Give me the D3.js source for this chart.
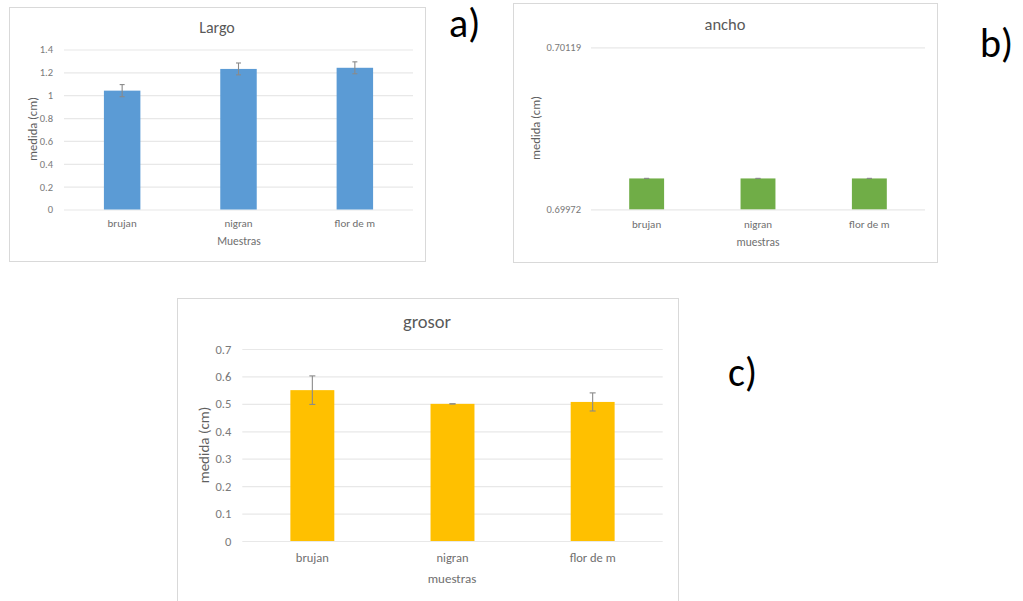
<!DOCTYPE html>
<html>
<head>
<meta charset="utf-8">
<script src="https://cdn.jsdelivr.net/npm/d3@7"></script>
<style>
  html, body { margin: 0; padding: 0; background: #fff; }
  svg { display: block; }
  text { font-family: Carlito, Calibri, Lato, "Open Sans", sans-serif; }
</style>
</head>
<body>
<svg id="fig" width="1023" height="601"></svg>
<script>
// Sample categories shared by the three panels
const categories = ["brujan", "nigran", "flor de m"];

// a) Largo
const largoValues = [1.04, 1.23, 1.24];
const largoErrors = [0.053, 0.052, 0.052];
const largoTicks = [0, 0.2, 0.4, 0.6, 0.8, 1, 1.2, 1.4];

// b) ancho
const anchoValues = [0.7, 0.7, 0.7];
const anchoErrors = [0, 0, 0];
const anchoTicks = [0.69972, 0.70119];

// c) grosor
const grosorValues = [0.55, 0.50, 0.507];
const grosorErrors = [0.052, 0, 0.033];
const grosorTicks = [0, 0.1, 0.2, 0.3, 0.4, 0.5, 0.6, 0.7];

const svg = d3.select("#fig");
const FONT = "Carlito, Calibri, Lato, 'Open Sans', sans-serif";

function panel(cfg) {
  const g = svg.append("g");

  g.append("rect")
    .attr("x", cfg.box[0] + 0.5).attr("y", cfg.box[1] + 0.5)
    .attr("width", cfg.box[2]).attr("height", cfg.box[3])
    .attr("fill", "#fff").attr("stroke", "#d9d9d9");

  const x = d3.scaleBand().domain(categories)
    .range([cfg.plot.x0, cfg.plot.x1])
    .paddingInner(0.6865).paddingOuter(0.343);
  const y = d3.scaleLinear().domain(cfg.domain).range([cfg.plot.y1, cfg.plot.y0]);

  // gridlines + tick labels via a left axis
  const yAxis = d3.axisLeft(y).tickValues(cfg.ticks)
    .tickSize(-(cfg.plot.x1 - cfg.plot.x0)).tickPadding(cfg.tickPad)
    .tickFormat(cfg.fmt);
  const ya = g.append("g").attr("transform", `translate(${cfg.plot.x0},0)`).call(yAxis);
  ya.select(".domain").remove();
  ya.selectAll(".tick line").attr("stroke", "#e8e8e8").attr("stroke-width", 1.2);
  ya.selectAll(".tick text").attr("fill", "#7a7a7a")
    .style("font-size", cfg.tickSize + "px")
    .style("font-family", FONT);

  // bars
  g.selectAll("rect.bar").data(cfg.values).join("rect").attr("class", "bar")
    .attr("x", (d, i) => x(categories[i]))
    .attr("width", x.bandwidth())
    .attr("y", d => y(d))
    .attr("height", d => y(cfg.domain[0]) - y(d))
    .attr("fill", cfg.color);

  // error bars
  const cap = cfg.cap;
  const eb = g.selectAll("g.err").data(cfg.values).join("g").attr("class", "err")
    .attr("stroke", "#8a8a8a").attr("stroke-width", 1.1);
  eb.each(function (d, i) {
    const cx = x(categories[i]) + x.bandwidth() / 2;
    const e = cfg.errors[i];
    const s = d3.select(this);
    s.append("line").attr("x1", cx).attr("x2", cx).attr("y1", y(d + e)).attr("y2", y(d - e));
    s.append("line").attr("x1", cx - cap).attr("x2", cx + cap).attr("y1", y(d + e)).attr("y2", y(d + e));
    s.append("line").attr("x1", cx - cap).attr("x2", cx + cap).attr("y1", y(d - e)).attr("y2", y(d - e));
  });

  // category labels
  g.selectAll("text.cat").data(categories).join("text").attr("class", "cat")
    .attr("x", d => x(d) + x.bandwidth() / 2)
    .attr("y", cfg.catY)
    .attr("text-anchor", "middle").attr("fill", "#6f6f6f")
    .style("font-size", cfg.catSize + "px").text(d => d);

  // titles
  g.append("text").attr("x", cfg.titleX).attr("y", cfg.titleY)
    .attr("text-anchor", "middle").attr("fill", "#595959")
    .style("font-size", cfg.titleSize + "px").text(cfg.title);
  g.append("text").attr("x", cfg.xTitleX).attr("y", cfg.xTitleY)
    .attr("text-anchor", "middle").attr("fill", "#6f6f6f")
    .style("font-size", cfg.xTitleSize + "px").text(cfg.xTitle);
  g.append("text")
    .attr("transform", `translate(${cfg.yTitleX},${cfg.yTitleY}) rotate(-90)`)
    .attr("text-anchor", "middle").attr("fill", "#5f5f5f")
    .style("font-size", cfg.yTitleSize + "px").text("medida (cm)");

  // panel letter
  svg.append("text").attr("x", cfg.letter[0]).attr("y", cfg.letter[1])
    .attr("fill", "#000").style("font-size", "40px").text(cfg.letter[2]);
}

panel({
  box: [9, 7, 416, 254],
  plot: { x0: 64, x1: 413, y0: 49.5, y1: 209.5 },
  domain: [0, 1.4], ticks: largoTicks, fmt: d => String(+d.toFixed(2)),
  values: largoValues, errors: largoErrors, color: "#5b9bd5", cap: 2.5,
  tickPad: 11, tickSize: 10.5,
  catY: 226.5, catSize: 11,
  title: "Largo", titleX: 217, titleY: 32.5, titleSize: 16,
  xTitle: "Muestras", xTitleX: 239, xTitleY: 244.5, xTitleSize: 11.5,
  yTitleX: 36.5, yTitleY: 129, yTitleSize: 12.5,
  letter: [449, 37, "a)"]
});

panel({
  box: [513, 3, 424, 259],
  plot: { x0: 591, x1: 925, y0: 47.3, y1: 209.3 },
  domain: [0.69972, 0.70119], ticks: anchoTicks, fmt: d => d.toFixed(5),
  values: anchoValues, errors: anchoErrors, color: "#70ad47", cap: 2.5,
  tickPad: 10, tickSize: 10.5,
  catY: 227.5, catSize: 11,
  title: "ancho", titleX: 725, titleY: 29.5, titleSize: 16.5,
  xTitle: "muestras", xTitleX: 758, xTitleY: 245.5, xTitleSize: 11.5,
  yTitleX: 539.5, yTitleY: 128, yTitleSize: 12.5,
  letter: [980, 57, "b)"]
});

panel({
  box: [177, 298, 501, 310],
  plot: { x0: 242.3, x1: 662.7, y0: 349, y1: 541 },
  domain: [0, 0.7], ticks: grosorTicks, fmt: d => String(+d.toFixed(2)),
  values: grosorValues, errors: grosorErrors, color: "#ffc000", cap: 3,
  tickPad: 11, tickSize: 12.5,
  catY: 561.5, catSize: 12.5,
  title: "grosor", titleX: 427, titleY: 328, titleSize: 18.5,
  xTitle: "muestras", xTitleX: 452, xTitleY: 582.5, xTitleSize: 13,
  yTitleX: 209, yTitleY: 445, yTitleSize: 15,
  letter: [728, 386, "c)"]
});
</script>
</body>
</html>
